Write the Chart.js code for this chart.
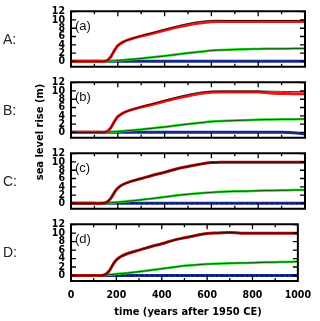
<!DOCTYPE html>
<html>
<head>
<meta charset="utf-8">
<script src="https://cdn.jsdelivr.net/npm/chart.js@4.4.0/dist/chart.umd.min.js"></script>
<style>
  html, body { margin: 0; padding: 0; background: #fff; }
  #wrap { position: relative; width: 320px; height: 321px; overflow: hidden; }
  #wrap canvas { position: absolute; left: 0; }
  .lab { position: absolute; font-family: 'Liberation Sans', Arial, sans-serif; font-size: 14px; color: #222; transform: translate(0, -50%); }
  .tag { position: absolute; font-family: 'Liberation Sans', Arial, sans-serif; font-size: 13px; color: #111; transform: translate(0, -50%); }
  .ttl { position: absolute; font-family: 'Liberation Sans Narrow', 'DejaVu Sans Condensed', sans-serif; font-weight: bold; font-size: 11px; color: #000; white-space: nowrap; }
</style>
</head>
<body>
<div id="wrap"></div>
<script>
const years = [0, 100, 130, 140, 150, 160, 170, 180, 190, 200, 220, 250, 300, 350, 400, 450, 500, 550, 600, 650, 700, 750, 800, 850, 900, 950, 1000];
const xTicks = [0, 200, 400, 600, 800, 1000];
const yTicks = [0, 2, 4, 6, 8, 10, 12];
const panelNames = ['A:', 'B:', 'C:', 'D:'];
const panelTags = ['(a)', '(b)', '(c)', '(d)'];

// red = largest contribution, thin black = reference run on top of it
const redA   = [0, 0, 0, 0, 0.1, 0.5, 1.1, 2.1, 3.0, 3.8, 4.6, 5.3, 6.1, 6.8, 7.5, 8.2, 8.8, 9.25, 9.55, 9.6, 9.6, 9.6, 9.6, 9.6, 9.6, 9.6, 9.6];
const blackA = [0, 0, 0, 0, 0.1, 0.5, 1.1, 2.1, 3.0, 3.8, 4.6, 5.3, 6.2, 6.95, 7.75, 8.5, 9.15, 9.65, 9.9, 9.9, 9.9, 9.9, 9.9, 9.9, 9.9, 9.9, 9.9];
const redB   = [0, 0, 0, 0, 0.1, 0.5, 1.1, 2.1, 3.0, 3.8, 4.6, 5.3, 6.1, 6.8, 7.5, 8.2, 8.8, 9.35, 9.7, 9.75, 9.75, 9.75, 9.75, 9.5, 9.4, 9.35, 9.3];
const blackB = [0, 0, 0, 0, 0.1, 0.5, 1.1, 2.1, 3.0, 3.8, 4.6, 5.3, 6.2, 6.95, 7.75, 8.5, 9.15, 9.7, 9.95, 10.0, 10.0, 10.0, 10.0, 9.95, 9.9, 9.85, 9.85];
const redC   = [0, 0, 0, 0.05, 0.2, 0.6, 1.2, 2.1, 3.0, 3.7, 4.5, 5.2, 6.0, 6.8, 7.5, 8.3, 8.9, 9.45, 9.85, 9.95, 9.95, 9.95, 9.95, 9.95, 9.95, 9.95, 9.95];
const redD   = [0, 0, 0, 0.05, 0.2, 0.6, 1.2, 2.1, 3.0, 3.7, 4.5, 5.2, 6.0, 6.8, 7.5, 8.3, 8.9, 9.45, 9.9, 10.05, 10.15, 10.0, 10.0, 10.0, 10.0, 10.0, 10.0];

const greenA = [0, 0, 0, 0, 0, 0.05, 0.08, 0.1, 0.15, 0.2, 0.3, 0.45, 0.7, 1.0, 1.3, 1.65, 2.0, 2.3, 2.6, 2.75, 2.85, 2.95, 3.0, 3.05, 3.05, 3.1, 3.1];
const greenB = [0, 0, 0, 0, 0, 0.05, 0.08, 0.1, 0.15, 0.2, 0.3, 0.45, 0.7, 1.0, 1.3, 1.65, 2.0, 2.3, 2.6, 2.75, 2.85, 2.95, 3.05, 3.1, 3.15, 3.15, 3.25];
const greenC = [0, 0, 0, 0.02, 0.05, 0.1, 0.15, 0.2, 0.25, 0.3, 0.4, 0.55, 0.85, 1.2, 1.55, 1.9, 2.2, 2.45, 2.65, 2.8, 2.9, 2.95, 3.05, 3.1, 3.15, 3.2, 3.25];
const greenD = [0, 0, 0.02, 0.05, 0.1, 0.15, 0.2, 0.25, 0.3, 0.35, 0.45, 0.6, 0.9, 1.25, 1.6, 1.95, 2.3, 2.5, 2.7, 2.8, 2.9, 2.95, 3.0, 3.1, 3.15, 3.2, 3.3];

const blueA = [0, 0, 0, 0, 0, 0, 0, 0, 0, 0, 0, 0, 0, 0, 0, 0, 0, 0, 0, 0, 0, 0, 0, 0, 0, 0, 0];
const blueB = [0, 0, 0, 0, 0, 0, 0, 0, 0, 0, 0, 0, 0, 0, 0, 0, 0, 0, 0, 0, 0, 0, 0, 0, 0, -0.1, -0.4];
const blueC = blueA;
const blueD = blueA;

const panels = [
  { red: redA, black: blackA, green: greenA, blue: blueA, redColor: '#ee1515' },
  { red: redB, black: blackB, green: greenB, blue: blueB, redColor: '#ee1515' },
  { red: redC, black: redC,   green: greenC, blue: blueC, redColor: '#b01010' },
  { red: redD, black: redD,   green: greenD, blue: blueD, redColor: '#b01010' },
];
const panelTops = [10, 81, 152, 223];
const plotH = 58;
const pad = 10;

const tickFont = { family: "'Liberation Sans Narrow', 'DejaVu Sans Condensed', sans-serif", size: 10.5, weight: 'bold', lineHeight: 1 };

const pts = (vals) => years.map((yr, i) => ({ x: yr, y: vals[i] }));

// box and inward tick marks
const frame = {
  id: 'frame',
  afterDatasetsDraw(chart) {
    const { ctx, chartArea: a, scales: { x, y } } = chart;
    ctx.save();
    ctx.strokeStyle = '#000';
    ctx.lineWidth = 1.3;
    ctx.beginPath();
    for (let yr = 100; yr < 1000; yr += 100) {
      const px = x.getPixelForValue(yr);
      const len = yr % 200 === 0 ? 5 : 3;
      ctx.moveTo(px, a.top); ctx.lineTo(px, a.top + len);
      ctx.moveTo(px, a.bottom); ctx.lineTo(px, a.bottom - len);
    }
    yTicks.forEach(v => {
      const py = y.getPixelForValue(v);
      ctx.moveTo(a.left, py); ctx.lineTo(a.left + 5, py);
      ctx.moveTo(a.right, py); ctx.lineTo(a.right - 5, py);
    });
    ctx.stroke();
    ctx.lineWidth = 2;
    ctx.strokeRect(a.left, a.top, a.right - a.left, a.bottom - a.top);
    ctx.restore();
  }
};

const wrap = document.getElementById('wrap');

panels.forEach((p, i) => {
  const isLast = i === panels.length - 1;
  const cv = document.createElement('canvas');
  cv.width = 320;
  cv.height = pad + plotH + (isLast ? 26 : pad);
  cv.style.top = (panelTops[i] - pad) + 'px';
  wrap.appendChild(cv);

  const line = (vals, color, width, extra) => Object.assign({
    data: pts(vals), borderColor: color, borderWidth: width,
    pointRadius: 0, fill: false, tension: 0.35
  }, extra || {});

  new Chart(cv, {
    type: 'line',
    data: {
      datasets: [
        line(p.black, 'rgba(0,0,0,0.75)', 1),
        line(p.red, p.redColor, 3),
        line(p.green, 'rgba(0,0,0,0.6)', 1),
        line(p.green, '#22dd22', 2.5),
        line(p.blue, i >= 2 ? 'rgba(0,0,0,0.7)' : '#1a2a8a', 1, i >= 2 ? { borderDash: [2, 3] } : {}),
        line(p.blue, '#1a2a8a', 3),
      ]
    },
    options: {
      animation: false,
      responsive: false,
      devicePixelRatio: 1,
      layout: { padding: { top: pad, bottom: isLast ? 0 : pad, left: 0, right: 15 } },
      plugins: { legend: { display: false }, tooltip: { enabled: false } },
      scales: {
        x: {
          type: 'linear', min: 0, max: 1000,
          grid: { display: false, drawTicks: false },
          border: { display: false },
          ticks: { display: isLast, font: tickFont, color: '#000', padding: 9, maxRotation: 0, autoSkip: false, callback: v => String(v) },
          afterBuildTicks: s => { s.ticks = xTicks.map(v => ({ value: v })); },
          afterFit: s => { s.height = isLast ? 26 : 0; }
        },
        y: {
          min: -1.3, max: 12.1,
          grid: { display: false, drawTicks: false },
          border: { display: false },
          ticks: { font: tickFont, color: '#000', padding: 6, autoSkip: false, callback: v => String(v) },
          afterBuildTicks: s => { s.ticks = yTicks.map(v => ({ value: v })); },
          afterFit: s => { s.width = 71; }
        }
      }
    },
    plugins: [frame]
  });

  const lab = document.createElement('div');
  lab.className = 'lab';
  lab.textContent = panelNames[i];
  lab.style.left = '3px';
  lab.style.top = (panelTops[i] + plotH / 2) + 'px';
  wrap.appendChild(lab);

  const tag = document.createElement('div');
  tag.className = 'tag';
  tag.textContent = panelTags[i];
  tag.style.left = '75px';
  tag.style.top = (panelTops[i] + 15) + 'px';
  wrap.appendChild(tag);
});

const yTitle = document.createElement('div');
yTitle.className = 'ttl';
yTitle.textContent = 'sea level rise (m)';
yTitle.style.left = '39px';
yTitle.style.top = '132px';
yTitle.style.transform = 'translate(-50%, -50%) rotate(-90deg)';
wrap.appendChild(yTitle);

const xTitle = document.createElement('div');
xTitle.className = 'ttl';
xTitle.textContent = 'time (years after 1950 CE)';
xTitle.style.left = '188px';
xTitle.style.top = '311px';
xTitle.style.transform = 'translate(-50%, -50%)';
wrap.appendChild(xTitle);
</script>
</body>
</html>
